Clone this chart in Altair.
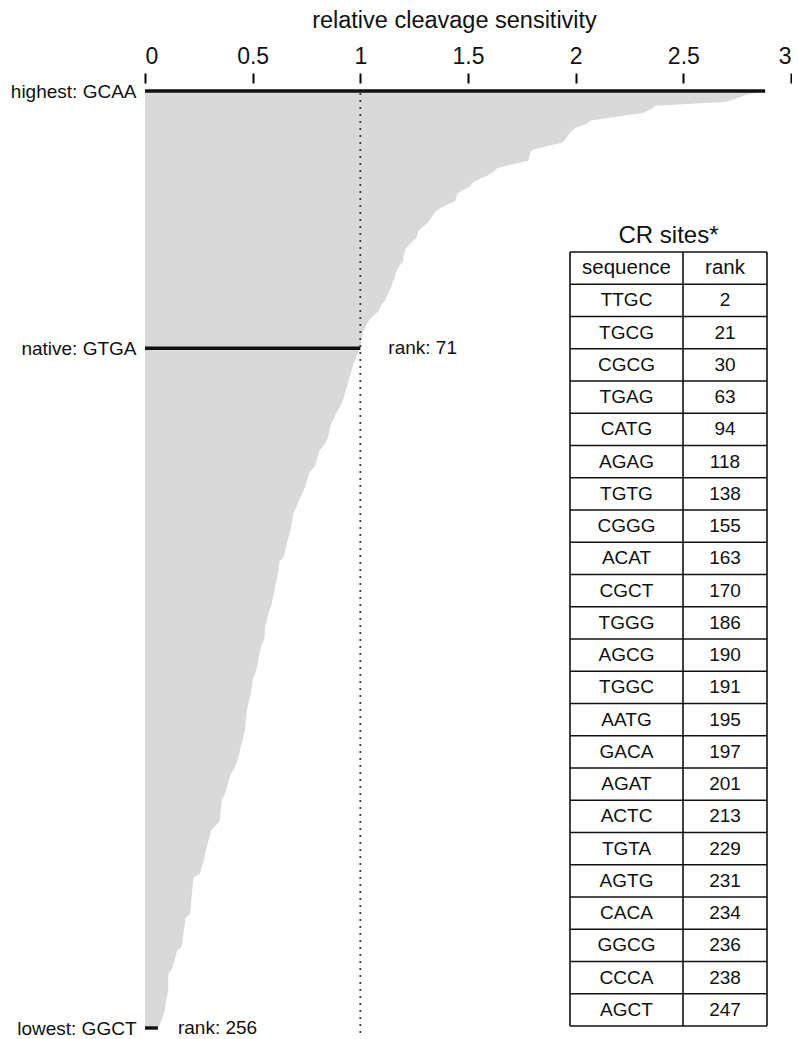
import altair as alt
import pandas as pd

# ---------------- data ----------------
ranks = list(range(1, 257))
sensitivity = [
    2.88, 2.79, 2.75, 2.69, 2.37, 2.35, 2.31, 2.19, 2.07, 2.05,
    2.00, 1.98, 1.965, 1.955, 1.94, 1.87, 1.80, 1.788, 1.785, 1.78,
    1.70, 1.635, 1.62, 1.59, 1.55, 1.52, 1.51, 1.475, 1.45, 1.445,
    1.44, 1.40, 1.37, 1.345, 1.335, 1.325, 1.31, 1.29, 1.27, 1.265,
    1.26, 1.24, 1.225, 1.21, 1.205, 1.20, 1.20, 1.19, 1.177, 1.17,
    1.163, 1.158, 1.15, 1.146, 1.138, 1.13, 1.122, 1.115, 1.10, 1.092,
    1.084, 1.065, 1.045, 1.035, 1.025, 1.016, 1.011, 1.007, 1.004, 1.002,
    1.00, 0.99, 0.985, 0.978, 0.97, 0.965, 0.96, 0.955, 0.95, 0.944,
    0.94, 0.935, 0.929, 0.925, 0.92, 0.914, 0.905, 0.895, 0.884, 0.878,
    0.868, 0.862, 0.858, 0.855, 0.851, 0.845, 0.835, 0.823, 0.81, 0.804,
    0.80, 0.795, 0.79, 0.775, 0.762, 0.758, 0.752, 0.746, 0.742, 0.735,
    0.727, 0.718, 0.711, 0.705, 0.697, 0.689, 0.686, 0.683, 0.68, 0.676,
    0.673, 0.669, 0.664, 0.659, 0.656, 0.652, 0.647, 0.642, 0.625, 0.622,
    0.62, 0.618, 0.615, 0.612, 0.608, 0.604, 0.601, 0.598, 0.594, 0.59,
    0.587, 0.58, 0.574, 0.57, 0.566, 0.561, 0.557, 0.557, 0.556, 0.555,
    0.548, 0.54, 0.535, 0.532, 0.529, 0.526, 0.522, 0.519, 0.514, 0.508,
    0.501, 0.499, 0.497, 0.494, 0.491, 0.487, 0.483, 0.479, 0.475, 0.472,
    0.471, 0.469, 0.467, 0.466, 0.464, 0.46, 0.456, 0.451, 0.447, 0.442,
    0.44, 0.435, 0.43, 0.424, 0.418, 0.408, 0.398, 0.393, 0.388, 0.383,
    0.378, 0.373, 0.365, 0.357, 0.355, 0.353, 0.352, 0.35, 0.348, 0.346,
    0.325, 0.31, 0.305, 0.30, 0.295, 0.29, 0.286, 0.282, 0.278, 0.274,
    0.27, 0.265, 0.26, 0.256, 0.226, 0.224, 0.222, 0.22, 0.219, 0.217,
    0.215, 0.214, 0.212, 0.211, 0.209, 0.188, 0.186, 0.184, 0.182, 0.179,
    0.177, 0.175, 0.172, 0.168, 0.148, 0.145, 0.14, 0.135, 0.13, 0.125,
    0.11, 0.108, 0.108, 0.108, 0.108, 0.107, 0.104, 0.10, 0.097, 0.095,
    0.093, 0.088, 0.082, 0.075, 0.07, 0.06,
]

label_ranks = [1, 71, 256]
label_names = ["highest: GCAA", "native: GTGA", "lowest: GGCT"]
x_ticks = [0, 0.5, 1, 1.5, 2, 2.5, 3]
reference_value = [1.0]

table_title = "CR sites*"
table_header = ["sequence", "rank"]
cr_sequences = ["TTGC", "TGCG", "CGCG", "TGAG", "CATG", "AGAG", "TGTG", "CGGG",
                "ACAT", "CGCT", "TGGG", "AGCG", "TGGC", "AATG", "GACA", "AGAT",
                "ACTC", "TGTA", "AGTG", "CACA", "GGCG", "CCCA", "AGCT"]
cr_ranks = [2, 21, 30, 63, 94, 118, 138, 155, 163, 170, 186, 190, 191, 195,
            197, 201, 213, 229, 231, 234, 236, 238, 247]

# ---------------- layout / style ----------------
W, H = 646, 937
FONT = "Liberation Sans"
GRAY = "#d9d9d9"
INK = "#111111"

# table geometry in plot pixels
T_LEFT, T_DIV, T_RIGHT = 425, 538, 622
T_TOP, ROW_H = 161, 32.25
N_ROWS = len(cr_sequences) + 1
HEADER_FS, ROW_FS = 20.5, 19

df = pd.DataFrame({"rank": ranks, "value": sensitivity})
marked = df[df["rank"].isin(label_ranks)].copy()

xscale = alt.Scale(domain=[0, 3], nice=False, zero=False)
yscale = alt.Scale(domain=[1, 256], reverse=True, nice=False, zero=False)

label_expr = ""
for r, n in zip(label_ranks[:-1], label_names[:-1]):
    label_expr += f"datum.value == {r} ? '{n}' : "
label_expr += f"'{label_names[-1]}'"

area = (
    alt.Chart(df)
    .transform_calculate(zero="0")
    .mark_area(orient="horizontal", color=GRAY, interpolate="linear")
    .encode(
        y=alt.Y(
            "rank:Q",
            scale=yscale,
            axis=alt.Axis(
                values=label_ranks, labelExpr=label_expr, domain=False,
                ticks=False, grid=False, labelPadding=9, labelFontSize=19,
                labelFont=FONT, labelColor=INK, title=None,
            ),
        ),
        x=alt.X(
            "value:Q",
            scale=xscale,
            axis=alt.Axis(
                orient="top", values=x_ticks, format="~g", domain=False,
                grid=False, ticks=True, tickSize=10, tickWidth=2,
                tickColor="#000000", tickOpacity=1, offset=8, labelPadding=5,
                labelFontSize=23, labelFont=FONT, labelColor=INK,
                title="relative cleavage sensitivity", titleFont=FONT,
                titleFontSize=23.5, titleFontWeight="normal", titleColor=INK,
                titlePadding=13, titleX=W / 2 - 14,
            ),
        ),
        x2="zero:Q",
    )
)

dotted = (
    alt.Chart(pd.DataFrame({"v": reference_value}))
    .mark_rule(strokeDash=[2, 5], color="#3a3a3a", strokeWidth=1.8)
    .encode(x=alt.X("v:Q", scale=xscale), y=alt.value(2), y2=alt.value(H + 8))
)

bars = (
    alt.Chart(marked)
    .transform_calculate(zero="0")
    .mark_rule(color=INK, strokeWidth=3.4)
    .encode(y=alt.Y("rank:Q", scale=yscale), x=alt.X("zero:Q", scale=xscale), x2="value:Q")
)

rank_text_mid = (
    alt.Chart(marked)
    .transform_filter(f"datum.rank == {label_ranks[1]}")
    .transform_calculate(lab="'rank: ' + datum.rank")
    .mark_text(align="left", baseline="middle", dx=28, fontSize=19, font=FONT, color=INK)
    .encode(y=alt.Y("rank:Q", scale=yscale), x=alt.X("value:Q", scale=xscale), text="lab:N")
)
rank_text_low = (
    alt.Chart(marked)
    .transform_filter(f"datum.rank == {label_ranks[2]}")
    .transform_calculate(lab="'rank: ' + datum.rank")
    .mark_text(align="left", baseline="middle", dx=20, fontSize=19, font=FONT, color=INK)
    .encode(y=alt.Y("rank:Q", scale=yscale), x=alt.X("value:Q", scale=xscale), text="lab:N")
)

main = alt.layer(area, dotted, bars, rank_text_mid, rank_text_low)

# ---------------- table ----------------
tx = alt.Scale(domain=[0, W], nice=False, zero=False)
ty = alt.Scale(domain=[0, H], reverse=True, nice=False, zero=False)

rows = pd.DataFrame({
    "row": list(range(N_ROWS)),
    "seq": [table_header[0]] + cr_sequences,
    "rk": [table_header[1]] + [str(r) for r in cr_ranks],
})
lines_h = pd.DataFrame({"k": list(range(N_ROWS + 1))})
lines_v = pd.DataFrame({"xv": [T_LEFT, T_DIV, T_RIGHT]})

hrules = (
    alt.Chart(lines_h)
    .transform_calculate(yy=f"{T_TOP} + datum.k * {ROW_H}", x1=f"{T_LEFT}", x2=f"{T_RIGHT}")
    .mark_rule(color=INK, strokeWidth=1.6)
    .encode(
        y=alt.Y("yy:Q", scale=ty, axis=None),
        x=alt.X("x1:Q", scale=tx, axis=None),
        x2="x2:Q",
    )
)
vrules = (
    alt.Chart(lines_v)
    .transform_calculate(y1=f"{T_TOP}", y2=f"{T_TOP} + {N_ROWS} * {ROW_H}")
    .mark_rule(color=INK, strokeWidth=1.6)
    .encode(
        x=alt.X("xv:Q", scale=tx, axis=None),
        y=alt.Y("y1:Q", scale=ty, axis=None),
        y2="y2:Q",
    )
)
font_size = alt.condition("datum.row == 0", alt.value(HEADER_FS), alt.value(ROW_FS))
seq_text = (
    alt.Chart(rows)
    .transform_calculate(yc=f"{T_TOP} + (datum.row + 0.5) * {ROW_H}", xc=f"({T_LEFT} + {T_DIV}) / 2")
    .mark_text(font=FONT, color=INK, baseline="middle", align="center")
    .encode(x=alt.X("xc:Q", scale=tx, axis=None), y=alt.Y("yc:Q", scale=ty, axis=None),
            text="seq:N", size=font_size)
)
rank_col_text = (
    alt.Chart(rows)
    .transform_calculate(yc=f"{T_TOP} + (datum.row + 0.5) * {ROW_H}", xc=f"({T_DIV} + {T_RIGHT}) / 2")
    .mark_text(font=FONT, color=INK, baseline="middle", align="center")
    .encode(x=alt.X("xc:Q", scale=tx, axis=None), y=alt.Y("yc:Q", scale=ty, axis=None),
            text="rk:N", size=font_size)
)
title_text = (
    alt.Chart(pd.DataFrame({"t": [table_title]}))
    .transform_calculate(yc=f"{T_TOP} - 4", xc=f"({T_LEFT} + {T_RIGHT}) / 2")
    .mark_text(fontSize=24, font=FONT, color=INK, baseline="bottom", align="center")
    .encode(x=alt.X("xc:Q", scale=tx, axis=None), y=alt.Y("yc:Q", scale=ty, axis=None), text="t:N")
)
table = alt.layer(hrules, vrules, seq_text, rank_col_text, title_text)

chart = (
    alt.layer(main, table)
    .resolve_scale(x="independent", y="independent")
    .properties(width=W, height=H, padding={"left": 2, "top": 0, "right": 0, "bottom": 0},
                background="white")
    .configure_view(strokeWidth=0)
)

chart.save("out.html", embed_options={"renderer": "svg", "actions": False})
